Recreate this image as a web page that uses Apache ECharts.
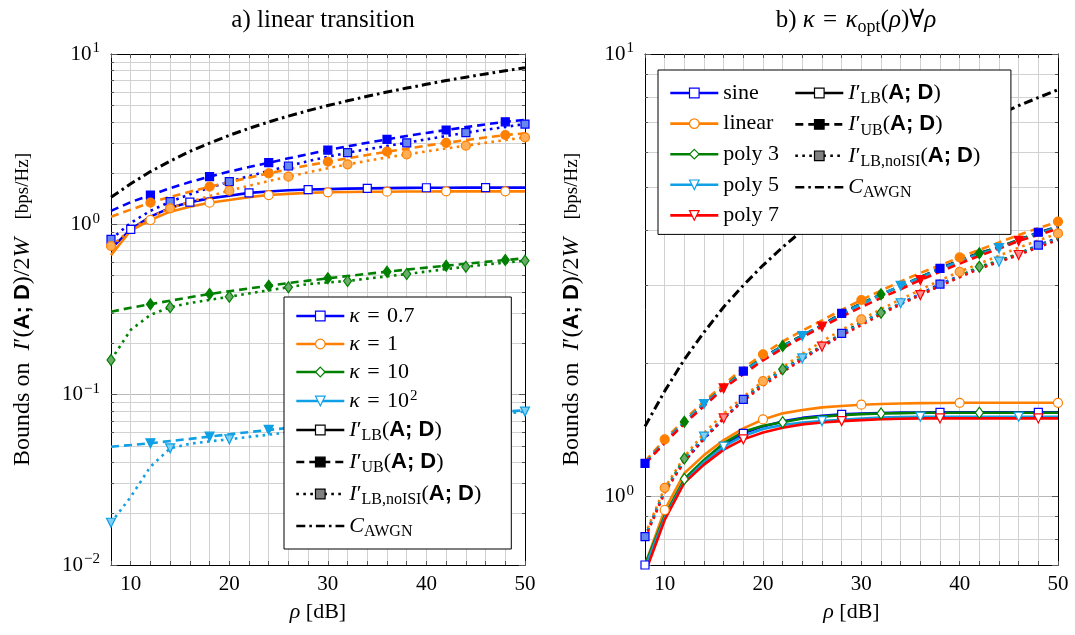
<!DOCTYPE html>
<html>
<head>
<meta charset="utf-8">
<script src="https://cdn.jsdelivr.net/npm/echarts@6/dist/echarts.min.js"></script>
<style>
  html, body { margin: 0; padding: 0; background: #fff; }
  #chart { width: 1075px; height: 635px; }
</style>
</head>
<body>
<div id="chart"></div>
<script>
// SNR grid in dB (one sample every 2 dB)
const rho = [8, 10, 12, 14, 16, 18, 20, 22, 24, 26, 28, 30, 32, 34, 36, 38, 40, 42, 44, 46, 48, 50];
const xTickLabels = [10, 20, 30, 40, 50];

// AWGN capacity reference (both panels)
const C_AWGN = [1.44, 1.73, 2.04, 2.35, 2.68, 3.00, 3.33, 3.66, 3.99, 4.32, 4.65, 4.98, 5.31, 5.65, 5.98, 6.31, 6.64, 6.98, 7.31, 7.64, 7.97, 8.30];

// Panel a) linear transition, fixed kappa
const k07_LB    = [0.72, 0.935, 1.11, 1.25, 1.35, 1.42, 1.47, 1.53, 1.56, 1.585, 1.60, 1.61, 1.62, 1.627, 1.632, 1.636, 1.64, 1.64, 1.642, 1.642, 1.642, 1.642];
const k07_UB    = [1.20, 1.35, 1.486, 1.63, 1.77, 1.905, 2.04, 2.17, 2.30, 2.44, 2.58, 2.73, 2.87, 3.01, 3.155, 3.30, 3.44, 3.58, 3.72, 3.86, 4.00, 4.10];
const k07_noISI = [0.817, 1.02, 1.20, 1.358, 1.50, 1.64, 1.78, 1.92, 2.06, 2.20, 2.35, 2.49, 2.635, 2.76, 2.885, 3.01, 3.155, 3.30, 3.45, 3.59, 3.73, 3.88];
const k1_LB     = [0.66, 0.92, 1.06, 1.187, 1.27, 1.34, 1.39, 1.445, 1.486, 1.51, 1.53, 1.542, 1.548, 1.552, 1.555, 1.558, 1.56, 1.562, 1.562, 1.562, 1.562, 1.562];
const k1_UB     = [1.109, 1.22, 1.34, 1.45, 1.555, 1.664, 1.77, 1.88, 1.993, 2.105, 2.22, 2.33, 2.44, 2.555, 2.67, 2.78, 2.895, 3.01, 3.12, 3.235, 3.345, 3.42];
const k1_noISI  = [0.746, 0.93, 1.10, 1.242, 1.355, 1.465, 1.576, 1.685, 1.795, 1.905, 2.02, 2.135, 2.25, 2.36, 2.47, 2.575, 2.68, 2.79, 2.895, 3.01, 3.125, 3.243];
const k10_UB    = [0.307, 0.324, 0.340, 0.356, 0.373, 0.390, 0.405, 0.420, 0.436, 0.452, 0.467, 0.482, 0.497, 0.512, 0.527, 0.542, 0.557, 0.572, 0.587, 0.602, 0.617, 0.632];
const k10_noISI = [0.160, 0.240, 0.294, 0.326, 0.345, 0.360, 0.376, 0.393, 0.410, 0.427, 0.446, 0.456, 0.465, 0.480, 0.495, 0.511, 0.528, 0.546, 0.564, 0.580, 0.596, 0.612];
const k100_UB   = [0.0495, 0.0506, 0.0518, 0.0534, 0.0550, 0.0567, 0.0585, 0.0603, 0.0621, 0.0638, 0.0655, 0.0670, 0.0684, 0.0698, 0.0711, 0.0724, 0.0737, 0.0750, 0.0765, 0.0780, 0.0795, 0.0810];
const k100_noISI= [0.0177, 0.0251, 0.0378, 0.0484, 0.0515, 0.0532, 0.0547, 0.0565, 0.0582, 0.0600, 0.0617, 0.0634, 0.0650, 0.0664, 0.0678, 0.0690, 0.0705, 0.0720, 0.0740, 0.0758, 0.0776, 0.0795];

// Panel b) optimal kappa per SNR, several transition shapes
const sine_LB    = [0.70, 0.90, 1.085, 1.20, 1.305, 1.389, 1.44, 1.478, 1.505, 1.522, 1.533, 1.54, 1.544, 1.547, 1.548, 1.549, 1.549, 1.549, 1.549, 1.549, 1.549, 1.549];
const sine_UB    = [1.188, 1.33, 1.47, 1.615, 1.76, 1.92, 2.06, 2.19, 2.31, 2.44, 2.594, 2.73, 2.86, 2.99, 3.13, 3.278, 3.42, 3.55, 3.66, 3.80, 3.955, 4.07];
const sine_noISI = [0.811, 1.03, 1.20, 1.35, 1.50, 1.658, 1.80, 1.93, 2.05, 2.18, 2.337, 2.47, 2.60, 2.73, 2.87, 3.02, 3.15, 3.29, 3.40, 3.53, 3.70, 3.84];
const linear_LB    = [0.70, 0.932, 1.128, 1.24, 1.341, 1.425, 1.493, 1.541, 1.568, 1.59, 1.601, 1.612, 1.618, 1.622, 1.625, 1.627, 1.628, 1.628, 1.628, 1.628, 1.628, 1.628];
const linear_UB    = [1.20, 1.346, 1.49, 1.64, 1.79, 1.95, 2.096, 2.24, 2.37, 2.50, 2.64, 2.78, 2.92, 3.06, 3.20, 3.33, 3.47, 3.61, 3.75, 3.90, 4.04, 4.18];
const linear_noISI = [0.82, 1.046, 1.23, 1.39, 1.54, 1.68, 1.823, 1.96, 2.10, 2.24, 2.38, 2.513, 2.65, 2.79, 2.93, 3.08, 3.22, 3.36, 3.50, 3.65, 3.79, 3.93];
const poly3_LB    = [0.70, 0.905, 1.095, 1.209, 1.32, 1.40, 1.445, 1.471, 1.50, 1.515, 1.527, 1.535, 1.54, 1.543, 1.546, 1.546, 1.546, 1.546, 1.546, 1.546, 1.546, 1.546];
const poly3_UB    = [1.19, 1.33, 1.475, 1.62, 1.765, 1.92, 2.06, 2.188, 2.31, 2.44, 2.59, 2.73, 2.863, 2.99, 3.13, 3.27, 3.41, 3.544, 3.66, 3.80, 3.94, 4.07];
const poly3_noISI = [0.81, 1.03, 1.219, 1.36, 1.50, 1.655, 1.80, 1.938, 2.06, 2.19, 2.33, 2.47, 2.602, 2.73, 2.86, 3.00, 3.15, 3.307, 3.41, 3.54, 3.69, 3.83];
const poly5_LB    = [0.69, 0.895, 1.08, 1.195, 1.296, 1.37, 1.42, 1.45, 1.47, 1.48, 1.49, 1.50, 1.507, 1.511, 1.514, 1.514, 1.514, 1.514, 1.514, 1.514, 1.514, 1.514];
const poly5_UB    = [1.19, 1.33, 1.475, 1.618, 1.76, 1.915, 2.055, 2.18, 2.305, 2.43, 2.58, 2.72, 2.86, 2.994, 3.12, 3.26, 3.40, 3.53, 3.64, 3.78, 3.93, 4.05];
const poly5_noISI = [0.81, 1.025, 1.21, 1.365, 1.50, 1.65, 1.79, 1.93, 2.051, 2.18, 2.32, 2.46, 2.60, 2.733, 2.86, 3.00, 3.14, 3.28, 3.393, 3.52, 3.68, 3.82];
const poly7_LB    = [0.67, 0.885, 1.074, 1.18, 1.276, 1.346, 1.395, 1.43, 1.455, 1.47, 1.48, 1.488, 1.494, 1.498, 1.501, 1.501, 1.501, 1.501, 1.501, 1.501, 1.501, 1.501];
const poly7_UB    = [1.185, 1.32, 1.46, 1.60, 1.755, 1.89, 2.03, 2.16, 2.29, 2.419, 2.55, 2.68, 2.81, 2.94, 3.084, 3.22, 3.36, 3.50, 3.63, 3.78, 3.90, 4.03];
const poly7_noISI = [0.805, 1.02, 1.20, 1.35, 1.501, 1.645, 1.78, 1.91, 2.04, 2.18, 2.31, 2.44, 2.58, 2.72, 2.852, 2.99, 3.13, 3.27, 3.39, 3.513, 3.66, 3.80];

// Log-grid helper values (between decades)
const minorA = [0.02,0.03,0.04,0.05,0.06,0.07,0.08,0.09, 0.2,0.3,0.4,0.5,0.6,0.7,0.8,0.9, 2,3,4,5,6,7,8,9];
const minorB = [0.8,0.9, 2,3,4,5,6,7,8,9];

// ---------- styling ----------
const SERIF = "'Liberation Serif','DejaVu Serif',serif";
const SANS = "'Liberation Sans','DejaVu Sans',sans-serif";
const FS = 21;
const SP = '\u2004';   // math-style spacing around relations
const COL = { blue: '#0000ff', orange: '#ff8000', green: '#008000', cyan: '#10a0e6', red: '#ff0000', black: '#000000' };
const LIGHT = { blue: '#6688ee', orange: '#ffae55', green: '#6aaa6a', cyan: '#80cff2', red: '#ff8a8a', black: '#808080' };
const SHAPE = { blue: 'rect', orange: 'circle', green: 'diamond', cyan: 'triangle', red: 'triangle', black: 'rect' };
const SIZE = { rect: 8, circle: 9, diamond: [8, 11], triangle: 9 };
const DASH = { LB: 'solid', UB: [8, 5], noISI: [2.6, 4.4], AWGN: [9, 4, 2.6, 4] };
const LW = 2.6;

function rich(fs, lh, bScale) {
  const base = { fontFamily: SERIF, fontWeight: 'normal', color: '#000' };
  return {
    r: Object.assign({}, base, { fontSize: fs, lineHeight: lh }),
    i: Object.assign({}, base, { fontStyle: 'italic', fontSize: fs, lineHeight: lh }),
    b: Object.assign({}, base, { fontFamily: SANS, fontWeight: 'bold', fontSize: Math.round(fs * (bScale || 0.9)), lineHeight: lh }),
    s: Object.assign({}, base, { fontSize: Math.round(fs * 0.72), lineHeight: lh - 6, verticalAlign: 'top', padding: [Math.round(lh * 0.42), 0, 0, 0] }),
    e: Object.assign({}, base, { fontSize: Math.round(fs * 0.7), lineHeight: lh - 6, verticalAlign: 'top', padding: [0, 0, 0, 1] }),
    u: Object.assign({}, base, { fontSize: Math.round(fs * 0.78), lineHeight: lh }),
    n: Object.assign({}, base, { fontSize: fs, lineHeight: lh })
  };
}

function markAt(step, phase, size) {
  return function (v, p) { return p.dataIndex % step === phase ? size : 0; };
}

function curve(id, panel, values, ck, kind, step, phase) {
  const shape = SHAPE[ck];
  const color = COL[ck];
  const fill = kind === 'LB' ? '#ffffff' : (kind === 'UB' ? color : LIGHT[ck]);
  return {
    type: 'line', name: id, xAxisIndex: panel * 2, yAxisIndex: panel * 2,
    data: rho.map((x, i) => [x, values[i]]),
    symbol: shape, symbolRotate: shape === 'triangle' ? 180 : 0,
    symbolSize: markAt(step, phase, SIZE[shape]),
    showSymbol: true, clip: true, silent: true, z: 3,
    lineStyle: { color: color, width: LW, type: DASH[kind], cap: 'butt' },
    itemStyle: { color: fill, borderColor: color, borderWidth: 1.2 },
    emphasis: { disabled: true }
  };
}

function awgn(panel) {
  return {
    type: 'line', name: 'awgn-' + panel, xAxisIndex: panel * 2, yAxisIndex: panel * 2,
    data: rho.map((x, i) => [x, C_AWGN[i]]), symbol: 'none', silent: true, z: 3, clip: true,
    lineStyle: { color: '#000', width: 3, type: DASH.AWGN, cap: 'butt' },
    emphasis: { disabled: true }
  };
}

// horizontal log-grid lines and the small inner tick stubs on both frame sides
function logGrid(panel, values) {
  const stubs = [];
  values.forEach(v => {
    stubs.push([{ coord: [8, v] }, { coord: [8.3, v] }]);
    stubs.push([{ coord: [49.7, v] }, { coord: [50, v] }]);
  });
  return [
    { type: 'line', name: 'grid-' + panel, xAxisIndex: panel * 2, yAxisIndex: panel * 2, data: [], silent: true, z: 1,
      markLine: { z: 1, silent: true, symbol: ['none', 'none'], animation: false, label: { show: false },
        lineStyle: { color: '#d2d2d2', width: 1, type: 'solid' }, emphasis: { disabled: true },
        data: values.map(v => ({ yAxis: v })) } },
    { type: 'line', name: 'stub-' + panel, xAxisIndex: panel * 2, yAxisIndex: panel * 2, data: [], silent: true, z: 1,
      markLine: { z: 1, silent: true, symbol: ['none', 'none'], animation: false, label: { show: false },
        lineStyle: { color: '#555', width: 1, type: 'solid' }, emphasis: { disabled: true },
        data: stubs } }
  ];
}

// legend key entries (series without data, used only for the legend)
const KEYS = {
  k07:   { ck: 'blue',   kind: 'LB', text: '{i|κ}{r|' + SP + '=' + SP + '0.7}' },
  k1:    { ck: 'orange', kind: 'LB', text: '{i|κ}{r|' + SP + '=' + SP + '1}' },
  k10:   { ck: 'green',  kind: 'LB', text: '{i|κ}{r|' + SP + '=' + SP + '10}' },
  k100:  { ck: 'cyan',   kind: 'LB', text: '{i|κ}{r|' + SP + '=' + SP + '10}{e|2}' },
  sine:  { ck: 'blue',   kind: 'LB', text: '{r|sine}' },
  lin:   { ck: 'orange', kind: 'LB', text: '{r|linear}' },
  p3:    { ck: 'green',  kind: 'LB', text: '{r|poly 3}' },
  p5:    { ck: 'cyan',   kind: 'LB', text: '{r|poly 5}' },
  p7:    { ck: 'red',    kind: 'LB', text: '{r|poly 7}' },
  LB:    { ck: 'black',  kind: 'LB', text: '{i|I}{r|′}{s|LB}{r|(}{b|A; D}{r|)}' },
  UB:    { ck: 'black',  kind: 'UB', text: '{i|I}{r|′}{s|UB}{r|(}{b|A; D}{r|)}' },
  noISI: { ck: 'black',  kind: 'noISI', text: '{i|I}{r|′}{s|LB,noISI}{r|(}{b|A; D}{r|)}' },
  AWGN:  { ck: 'black',  kind: 'AWGN', text: '{i|C}{s|AWGN}' }
};

function keySeries(name) {
  const k = KEYS[name];
  const shape = SHAPE[k.ck];
  return {
    type: 'line', name: name, xAxisIndex: 0, yAxisIndex: 0, data: [],
    symbol: shape, symbolRotate: shape === 'triangle' ? 180 : 0,
    lineStyle: { color: COL[k.ck], width: LW, type: DASH[k.kind] },
    itemStyle: { color: '#fff', borderColor: COL[k.ck], borderWidth: 1.2 }
  };
}

function keyItem(name) {
  const k = KEYS[name];
  const color = COL[k.ck];
  const fill = k.kind === 'LB' ? '#ffffff' : (k.kind === 'UB' ? color : LIGHT[k.ck]);
  return {
    name: name,
    symbolRotate: SHAPE[k.ck] === 'triangle' ? 180 : 0,
    itemStyle: { color: fill, borderColor: color, borderWidth: 1.2, opacity: k.kind === 'AWGN' ? 0 : 1 },
    lineStyle: { color: color, width: LW, type: DASH[k.kind], opacity: 1 }
  };
}

function legendBox(names, left, top, padding, gap, boxed) {
  return {
    data: names.map(keyItem), orient: 'vertical', left: left, top: top, padding: padding,
    itemGap: gap, itemWidth: 48, itemHeight: 12, selectedMode: false,
    backgroundColor: boxed ? '#fff' : 'transparent', borderColor: '#000', borderWidth: boxed ? 1 : 0,
    borderRadius: 0, z: boxed ? 10 : 11,
    formatter: n => KEYS[n].text,
    textStyle: { fontFamily: SERIF, fontSize: 22, color: '#000', rich: rich(22, 24, 1.0) }
  };
}

function decadeLabel(v) {
  const e = Math.log10(v);
  const r = Math.round(e);
  if (Math.abs(e - r) > 1e-6) return '';
  return '{n|10}{e|' + (r < 0 ? '−' + (-r) : String(r)) + '}';
}

function xAxes(grid) {
  const base = { type: 'value', gridIndex: grid, min: 8, max: 50, interval: 2 };
  return [
    Object.assign({}, base, {
      position: 'bottom',
      axisLine: { show: true, onZero: false, lineStyle: { color: '#000', width: 1 } },
      axisTick: { show: true, inside: true, length: 4, lineStyle: { color: '#555' } },
      axisLabel: { show: true, margin: 9, showMaxLabel: true, showMinLabel: true,
        formatter: v => (xTickLabels.indexOf(v) >= 0 ? String(v) : ''),
        fontFamily: SERIF, fontSize: FS, color: '#000' },
      splitLine: { show: true, lineStyle: { color: '#d2d2d2', width: 1 } },
      name: '{i|ρ}{r| [dB]}', nameLocation: 'middle', nameGap: 35,
      nameTextStyle: { rich: rich(22, 24) }
    }),
    Object.assign({}, base, {
      position: 'top',
      axisLine: { show: true, onZero: false, lineStyle: { color: '#000', width: 1 } },
      axisTick: { show: true, inside: true, length: 4, lineStyle: { color: '#555' } },
      axisLabel: { show: false }, splitLine: { show: false }
    })
  ];
}

function yAxes(grid, min, gap) {
  const base = { type: 'log', logBase: 10, gridIndex: grid, min: min, max: 10 };
  return [
    Object.assign({}, base, {
      position: 'left',
      axisLine: { show: true, onZero: false, lineStyle: { color: '#000', width: 1 } },
      axisTick: { show: true, inside: true, length: 6, lineStyle: { color: '#555' } },
      axisLabel: { show: true, margin: 11, formatter: decadeLabel, rich: rich(FS, 26) },
      splitLine: { show: true, lineStyle: { color: '#b9b9b9', width: 1 } },
      name: '{r|Bounds on  }{i|I}{r|′(}{b|A; D}{r|)/2}{i|W}{r|   }{u|[bps/Hz]}',
      nameLocation: 'middle', nameRotate: 90, nameGap: gap,
      nameTextStyle: { rich: rich(24, 26) }
    }),
    Object.assign({}, base, {
      position: 'right',
      axisLine: { show: true, onZero: false, lineStyle: { color: '#000', width: 1 } },
      axisTick: { show: true, inside: true, length: 6, lineStyle: { color: '#555' } },
      axisLabel: { show: false }, splitLine: { show: false }
    })
  ];
}

const series = [].concat(
  logGrid(0, minorA),
  logGrid(1, minorB),
  [
    // panel a)
    curve('a-k07-LB', 0, k07_LB, 'blue', 'LB', 3, 1),
    curve('a-k07-UB', 0, k07_UB, 'blue', 'UB', 3, 2),
    curve('a-k07-noISI', 0, k07_noISI, 'blue', 'noISI', 3, 0),
    curve('a-k1-LB', 0, k1_LB, 'orange', 'LB', 3, 2),
    curve('a-k1-UB', 0, k1_UB, 'orange', 'UB', 3, 2),
    curve('a-k1-noISI', 0, k1_noISI, 'orange', 'noISI', 3, 0),
    curve('a-k10-UB', 0, k10_UB, 'green', 'UB', 3, 2),
    curve('a-k10-noISI', 0, k10_noISI, 'green', 'noISI', 3, 0),
    curve('a-k100-UB', 0, k100_UB, 'cyan', 'UB', 3, 2),
    curve('a-k100-noISI', 0, k100_noISI, 'cyan', 'noISI', 3, 0),
    awgn(0),
    // panel b)
    curve('b-sine-LB', 1, sine_LB, 'blue', 'LB', 5, 0),
    curve('b-sine-UB', 1, sine_UB, 'blue', 'UB', 5, 0),
    curve('b-sine-noISI', 1, sine_noISI, 'blue', 'noISI', 5, 0),
    curve('b-lin-LB', 1, linear_LB, 'orange', 'LB', 5, 1),
    curve('b-lin-UB', 1, linear_UB, 'orange', 'UB', 5, 1),
    curve('b-lin-noISI', 1, linear_noISI, 'orange', 'noISI', 5, 1),
    curve('b-p3-LB', 1, poly3_LB, 'green', 'LB', 5, 2),
    curve('b-p3-UB', 1, poly3_UB, 'green', 'UB', 5, 2),
    curve('b-p3-noISI', 1, poly3_noISI, 'green', 'noISI', 5, 2),
    curve('b-p5-LB', 1, poly5_LB, 'cyan', 'LB', 5, 4),
    curve('b-p5-UB', 1, poly5_UB, 'cyan', 'UB', 5, 3),
    curve('b-p5-noISI', 1, poly5_noISI, 'cyan', 'noISI', 5, 3),
    curve('b-p7-LB', 1, poly7_LB, 'red', 'LB', 5, 0),
    curve('b-p7-UB', 1, poly7_UB, 'red', 'UB', 5, 4),
    curve('b-p7-noISI', 1, poly7_noISI, 'red', 'noISI', 5, 4),
    awgn(1)
  ],
  Object.keys(KEYS).map(keySeries)
);

const titleRich = rich(25, 28);

const option = {
  animation: false,
  backgroundColor: '#ffffff',
  title: [
    { text: '{r|a) linear transition}', left: 318, top: 1, textAlign: 'center',
      textStyle: { fontWeight: 'normal', rich: titleRich } },
    { text: '{r|b) }{i|κ}{r|' + SP + '=' + SP + '}{i|κ}{s|opt}{r|(}{i|ρ}{r|)∀}{i|ρ}', left: 851, top: 1, textAlign: 'center',
      textStyle: { fontWeight: 'normal', rich: titleRich } }
  ],
  grid: [
    { left: 111, right: 550, top: 54, bottom: 70, containLabel: false, outerBoundsMode: 'none' },
    { left: 645, right: 17, top: 54, bottom: 70, containLabel: false, outerBoundsMode: 'none' }
  ],
  xAxis: [].concat(xAxes(0), xAxes(1)),
  yAxis: [].concat(yAxes(0, 0.01, 75), yAxes(1, 0.7, 60)),
  legend: [
    legendBox(['k07', 'k1', 'k10', 'k100', 'LB', 'UB', 'noISI', 'AWGN'], 284, 297, [8, 30, 9, 11], 6, true),
    legendBox(['sine', 'lin', 'p3', 'p5', 'p7'], 658, 70, [12, 232, 8, 11], 8.6, true),
    legendBox(['LB', 'UB', 'noISI', 'AWGN'], 794, 81, [0, 0, 0, 0], 5.4, false)
  ],
  tooltip: { show: false },
  series: series
};

const chart = echarts.init(document.getElementById('chart'), null, { renderer: 'canvas' });
chart.setOption(option);
</script>
</body>
</html>
